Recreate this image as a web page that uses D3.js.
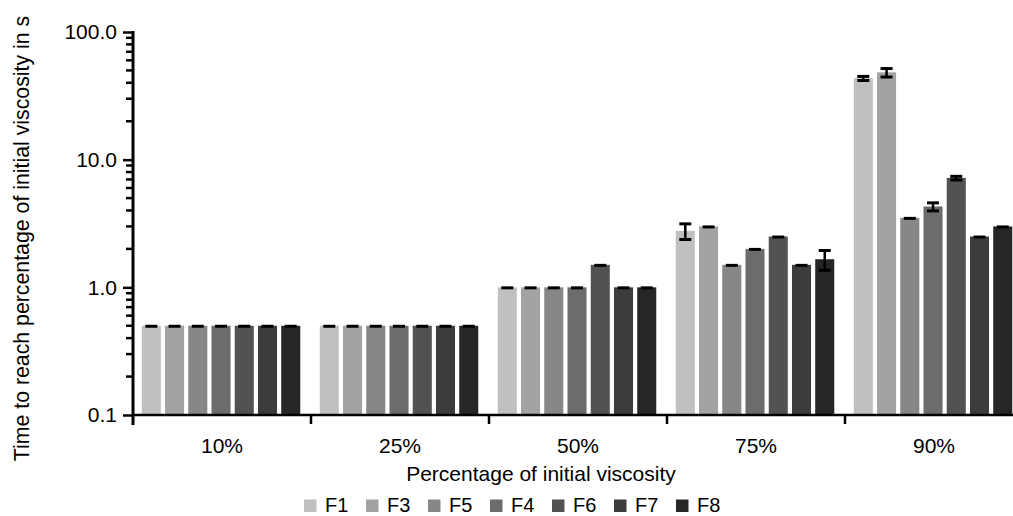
<!DOCTYPE html>
<html>
<head>
<meta charset="utf-8">
<script src="https://cdn.jsdelivr.net/npm/d3@7"></script>
<style>
  html, body { margin: 0; padding: 0; background: #fff; overflow: hidden; }
  svg { display: block; font-family: "Liberation Sans", Arial, sans-serif; }
</style>
</head>
<body>
<svg id="chart" width="1013" height="516"></svg>
<script>
const categories = ["10%", "25%", "50%", "75%", "90%"];
const series = ["F1", "F3", "F5", "F4", "F6", "F7", "F8"];
const colors = ["#c0c0c0", "#a3a3a3", "#878787", "#6c6c6c", "#525252", "#3c3c3c", "#262626"];

// mean values per series, in category order
const F1 = [0.5, 0.5, 1.0, 2.77, 43.5];
const F3 = [0.5, 0.5, 1.0, 3.0, 48.3];
const F5 = [0.5, 0.5, 1.0, 1.5, 3.5];
const F4 = [0.5, 0.5, 1.0, 2.0, 4.3];
const F6 = [0.5, 0.5, 1.5, 2.5, 7.2];
const F7 = [0.5, 0.5, 1.0, 1.5, 2.5];
const F8 = [0.5, 0.5, 1.0, 1.66, 3.0];

// error (SD) per series
const F1err = [0, 0, 0, 0.4, 1.8];
const F3err = [0, 0, 0, 0, 3.9];
const F5err = [0, 0, 0, 0, 0];
const F4err = [0, 0, 0, 0, 0.33];
const F6err = [0, 0, 0, 0, 0.27];
const F7err = [0, 0, 0, 0, 0];
const F8err = [0, 0, 0, 0.3, 0];

const yMajor = [0.1, 1, 10, 100];

const means = [F1, F3, F5, F4, F6, F7, F8];
const errs = [F1err, F3err, F5err, F4err, F6err, F7err, F8err];

const data = [];
series.forEach((s, i) => {
  categories.forEach((c, j) => {
    data.push({ series: s, cat: c, value: means[i][j], err: errs[i][j], color: colors[i] });
  });
});

const svg = d3.select("#chart");
const font = '"Liberation Sans", Arial, sans-serif';

const mLeft = 133, mTop = 32, mBottom = 415, groupW = 178;

const y = d3.scaleLog()
  .domain([0.1, 100])
  .range([mBottom, mTop]);

const x = d3.scaleBand()
  .domain(categories)
  .range([mLeft, mLeft + groupW * categories.length])
  .padding(0);

const xs = d3.scaleBand()
  .domain(series)
  .range([0, groupW])
  .paddingInner(0.18)
  .paddingOuter(0.42)
  .align(0.45);

// bars
svg.append("g")
  .selectAll("rect")
  .data(data)
  .join("rect")
  .attr("x", d => x(d.cat) + xs(d.series))
  .attr("y", d => y(d.value))
  .attr("width", xs.bandwidth())
  .attr("height", d => mBottom - y(d.value))
  .attr("fill", d => d.color);

// error bars
const eb = svg.append("g")
  .attr("stroke", "#000");

const cx = d => x(d.cat) + xs(d.series) + xs.bandwidth() / 2;
const capW = 12;

eb.selectAll("line.v")
  .data(data.filter(d => d.err > 0))
  .join("line")
  .attr("class", "v")
  .attr("x1", cx).attr("x2", cx)
  .attr("y1", d => y(d.value + d.err))
  .attr("y2", d => y(d.value - d.err))
  .attr("stroke-width", 2.5);

eb.selectAll("line.hi")
  .data(data)
  .join("line")
  .attr("class", "hi")
  .attr("x1", d => cx(d) - capW / 2).attr("x2", d => cx(d) + capW / 2)
  .attr("y1", d => y(d.value + d.err) + 0.5)
  .attr("y2", d => y(d.value + d.err) + 0.5)
  .attr("stroke-width", 3);

eb.selectAll("line.lo")
  .data(data.filter(d => d.err > 0))
  .join("line")
  .attr("class", "lo")
  .attr("x1", d => cx(d) - capW / 2).attr("x2", d => cx(d) + capW / 2)
  .attr("y1", d => y(d.value - d.err))
  .attr("y2", d => y(d.value - d.err))
  .attr("stroke-width", 3);

// y axis
const minors = [];
for (let dec = 0.1; dec < 100; dec *= 10) {
  for (let k = 2; k <= 9; k++) minors.push(+(dec * k).toPrecision(3));
}

const yAxis = svg.append("g")
  .attr("transform", `translate(${mLeft},0)`)
  .call(d3.axisLeft(y).tickValues(yMajor).tickSize(10).tickPadding(6).tickFormat(d3.format(".1f")))
  .attr("font-family", font)
  .attr("font-size", 21);
yAxis.select(".domain").remove();
yAxis.selectAll(".tick line").attr("stroke-width", 2.5);
yAxis.selectAll(".tick text").attr("fill", "#000");

svg.append("g")
  .attr("transform", `translate(${mLeft},0)`)
  .selectAll("line")
  .data(minors)
  .join("line")
  .attr("x1", -7).attr("x2", 0)
  .attr("y1", d => y(d)).attr("y2", d => y(d))
  .attr("stroke", "#000")
  .attr("stroke-width", 2.5);

svg.append("line")
  .attr("x1", mLeft).attr("x2", mLeft)
  .attr("y1", mTop - 1).attr("y2", mBottom + 10)
  .attr("stroke", "#000").attr("stroke-width", 3);

// x axis
const xAxis = svg.append("g")
  .attr("transform", `translate(0,${mBottom})`)
  .call(d3.axisBottom(x).tickSize(0).tickPadding(22))
  .attr("font-family", font)
  .attr("font-size", 21);
xAxis.select(".domain").remove();
xAxis.selectAll(".tick text").attr("fill", "#000").attr("dy", null).attr("y", 38);

svg.append("line")
  .attr("x1", mLeft).attr("x2", 1013)
  .attr("y1", mBottom).attr("y2", mBottom)
  .attr("stroke", "#000").attr("stroke-width", 2.5);

svg.append("g")
  .selectAll("line")
  .data(categories.slice(1))
  .join("line")
  .attr("x1", d => x(d)).attr("x2", d => x(d))
  .attr("y1", mBottom).attr("y2", mBottom + 9)
  .attr("stroke", "#000").attr("stroke-width", 2.5);

// axis titles
svg.append("text")
  .attr("x", 541).attr("y", 481)
  .attr("text-anchor", "middle")
  .attr("font-size", 21)
  .text("Percentage of initial viscosity");

svg.append("text")
  .attr("transform", "translate(29,238.5) rotate(-90)")
  .attr("text-anchor", "middle")
  .attr("font-size", 21.3)
  .text("Time to reach percentage of initial viscosity in s");

// legend
const legend = svg.append("g")
  .selectAll("g")
  .data(series)
  .join("g")
  .attr("transform", (d, i) => `translate(${304 + i * 62},499.5)`);

legend.append("rect")
  .attr("width", 12.5).attr("height", 12.5)
  .attr("fill", (d, i) => colors[i]);

legend.append("text")
  .attr("x", 21).attr("y", 12)
  .attr("font-size", 20)
  .text(d => d);
</script>
</body>
</html>
